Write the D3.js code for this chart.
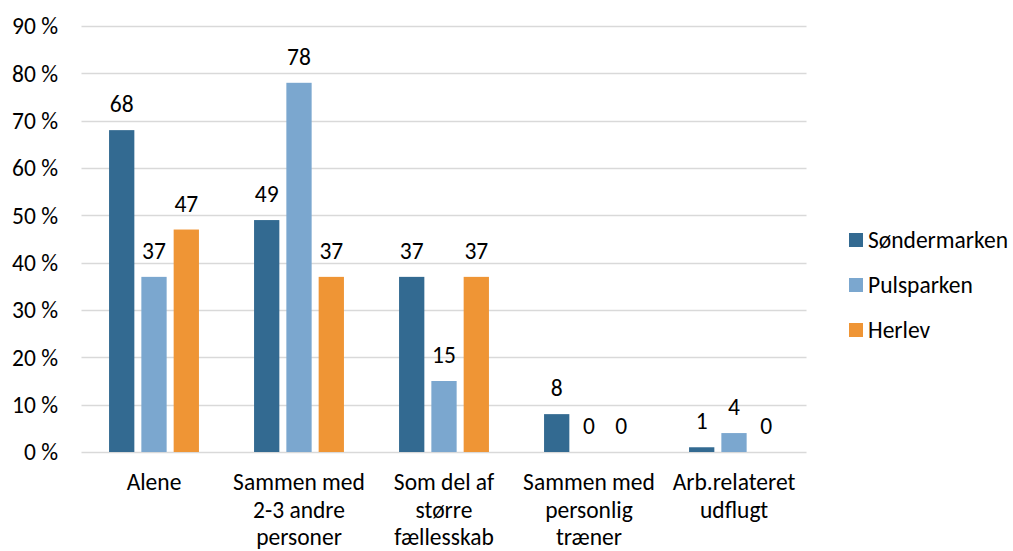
<!DOCTYPE html>
<html>
<head>
<meta charset="utf-8">
<script src="https://cdn.jsdelivr.net/npm/d3@7"></script>
<style>
  body { margin: 0; background: #fff; }
  text { font-family: Carlito, "Open Sans", sans-serif; fill: #000; }
</style>
</head>
<body>
<div id="chart"></div>
<script>
const categories = [
  ["Alene"],
  ["Sammen med", "2-3 andre", "personer"],
  ["Som del af", "større", "fællesskab"],
  ["Sammen med", "personlig", "træner"],
  ["Arb.relateret", "udflugt"]
];
const seriesNames = ["Søndermarken", "Pulsparken", "Herlev"];
const seriesColors = ["#336a91", "#7ba7cf", "#ef9535"];
const soendermarken = [68, 49, 37, 8, 1];
const pulsparken = [37, 78, 15, 0, 4];
const herlev = [47, 37, 37, 0, 0];
const yTicks = [0, 10, 20, 30, 40, 50, 60, 70, 80, 90];

const seriesValues = [soendermarken, pulsparken, herlev];

const width = 1013, height = 551;
const plotLeft = 81.5, plotRight = 806.5, plotTop = 26, plotBottom = 452;
const fontSize = "23.5px";

const svg = d3.select("#chart").append("svg")
  .attr("width", width)
  .attr("height", height);

const catKeys = categories.map((c) => c.join(" "));

const x = d3.scaleBand()
  .domain(catKeys)
  .range([plotLeft, plotRight]);

const xSub = d3.scaleBand()
  .domain(seriesNames)
  .range([0, x.bandwidth()])
  .paddingInner(0.217)
  .paddingOuter(0.853);

const y = d3.scaleLinear()
  .domain([0, 90])
  .range([plotBottom, plotTop]);

// gridlines
svg.selectAll(".grid")
  .data(yTicks)
  .enter()
  .append("line")
  .attr("x1", plotLeft)
  .attr("x2", plotRight)
  .attr("y1", (d) => Math.round(y(d)) + 0.5)
  .attr("y2", (d) => Math.round(y(d)) + 0.5)
  .attr("stroke", "#d9d9d9")
  .attr("stroke-width", 1.5);

// y tick labels
svg.selectAll(".ytick")
  .data(yTicks)
  .enter()
  .append("text")
  .attr("x", 58)
  .attr("y", (d) => y(d))
  .attr("dy", "0.35em")
  .style("text-anchor", "end")
  .style("font-size", fontSize)
  .text((d) => d + " %");

// bars
const groups = svg.selectAll(".series")
  .data(seriesNames)
  .enter()
  .append("g")
  .attr("fill", (d, i) => seriesColors[i]);

groups.selectAll("rect")
  .data((s, i) => seriesValues[i].map((v, j) => ({ s: s, v: v, c: catKeys[j] })))
  .enter()
  .append("rect")
  .attr("x", (d) => x(d.c) + xSub(d.s))
  .attr("y", (d) => y(d.v))
  .attr("width", xSub.bandwidth())
  .attr("height", (d) => plotBottom - y(d.v));

// value labels
groups.selectAll("text")
  .data((s, i) => seriesValues[i].map((v, j) => ({ s: s, v: v, c: catKeys[j] })))
  .enter()
  .append("text")
  .attr("x", (d) => x(d.c) + xSub(d.s) + xSub.bandwidth() / 2)
  .attr("y", (d) => y(d.v) - 18)
  .style("text-anchor", "middle")
  .style("font-size", fontSize)
  .text((d) => d.v);

// category labels
svg.selectAll(".cat")
  .data(categories)
  .enter()
  .append("text")
  .attr("y", 490)
  .style("text-anchor", "middle")
  .style("font-size", fontSize)
  .each(function (d, i) {
    const t = d3.select(this);
    d.forEach((line, k) => {
      t.append("tspan")
        .attr("x", x(catKeys[i]) + x.bandwidth() / 2)
        .attr("dy", k === 0 ? 0 : 27.5)
        .text(line);
    });
  });

// legend
const legend = svg.selectAll(".legend")
  .data(seriesNames)
  .enter()
  .append("g")
  .attr("transform", (d, i) => `translate(849, ${240 + i * 45})`);

legend.append("rect")
  .attr("x", 0)
  .attr("y", -7)
  .attr("width", 14)
  .attr("height", 14)
  .attr("fill", (d, i) => seriesColors[i]);

legend.append("text")
  .attr("x", 19)
  .attr("y", 0)
  .attr("dy", "0.35em")
  .style("font-size", fontSize)
  .text((d) => d);
</script>
</body>
</html>
